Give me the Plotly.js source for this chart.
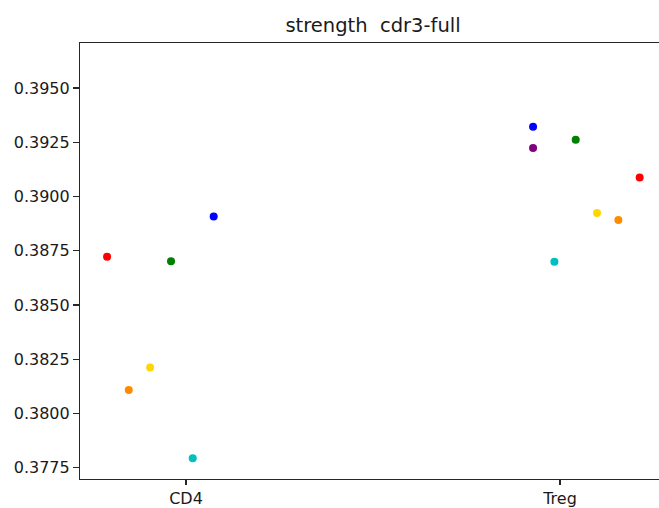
<!DOCTYPE html>
<html>
<head>
<meta charset="utf-8">
<script src="https://cdn.plot.ly/plotly-3.0.1.min.js"></script>
<style>html,body{margin:0;padding:0;overflow:hidden;background:#fff}</style>
</head>
<body>
<div id="chart" style="width:659px;height:508px"></div>
<script>
const categories = ["CD4", "Treg"];
const hues = ["red", "orange", "yellow", "green", "cyan", "blue", "purple"];
const hueColors = ["#ff0000", "#ff8c00", "#ffd700", "#008000", "#00bfbf", "#0000ff", "#800080"];
// values per hue: [CD4, Treg] (null = absent)
const cd4Values  = [0.38722, 0.38108, 0.38212, 0.38701, 0.37793, 0.38908, null];
const tregValues = [0.39087, 0.38892, 0.38924, 0.39261, 0.38699, 0.39321, 0.39223];
// strip jitter offsets (category units) per hue
const cd4Jitter  = [-0.211, -0.153, -0.096, -0.040, 0.018, 0.074, 0];
const tregJitter = [0.213, 0.156, 0.099, 0.042, -0.015, -0.072, -0.072];

const traces = hues.map((h, i) => {
  const xs = [], ys = [];
  if (cd4Values[i] !== null) { xs.push(0 + cd4Jitter[i]); ys.push(cd4Values[i]); }
  if (tregValues[i] !== null) { xs.push(1 + tregJitter[i]); ys.push(tregValues[i]); }
  return {
    type: "scatter", mode: "markers", name: h, x: xs, y: ys,
    marker: {color: hueColors[i], size: 8, line: {width: 0}},
    hoverinfo: "skip"
  };
});

const font = {family: "DejaVu Sans, sans-serif", color: "#1a1a1a"};
const layout = {
  width: 659, height: 508,
  margin: {l: 80, r: 0, t: 43, b: 29, pad: 0},
  paper_bgcolor: "#fff", plot_bgcolor: "#fff",
  showlegend: false,
  font: font,
  title: {
    text: "strength  cdr3-full",
    font: {family: "DejaVu Sans, sans-serif", size: 19.5, color: "#1a1a1a"},
    x: 373 / 659, xref: "container", xanchor: "center",
    y: 1 - 25 / 508, yref: "container", yanchor: "middle"
  },
  xaxis: {
    range: [-0.2834, 1.2647],
    tickmode: "array", tickvals: [0, 1], ticktext: categories,
    showgrid: false, zeroline: false,
    showline: true, mirror: true, linecolor: "#262626", linewidth: 1.1,
    ticks: "outside", ticklen: 5, tickwidth: 1.1, tickcolor: "#262626",
    tickfont: {family: "DejaVu Sans, sans-serif", size: 16, color: "#1a1a1a"}
  },
  yaxis: {
    range: [0.376979, 0.397074],
    tickmode: "linear", tick0: 0.3775, dtick: 0.0025, tickformat: ".4f",
    showgrid: false, zeroline: false,
    showline: true, mirror: false, linecolor: "#262626", linewidth: 1.1,
    ticks: "outside", ticklen: 6, tickwidth: 1.1, tickcolor: "#262626",
    tickfont: {family: "DejaVu Sans, sans-serif", size: 16, color: "#1a1a1a"}
  }
};

Plotly.newPlot("chart", traces, layout, {staticPlot: true, displayModeBar: false});
</script>
</body>
</html>
